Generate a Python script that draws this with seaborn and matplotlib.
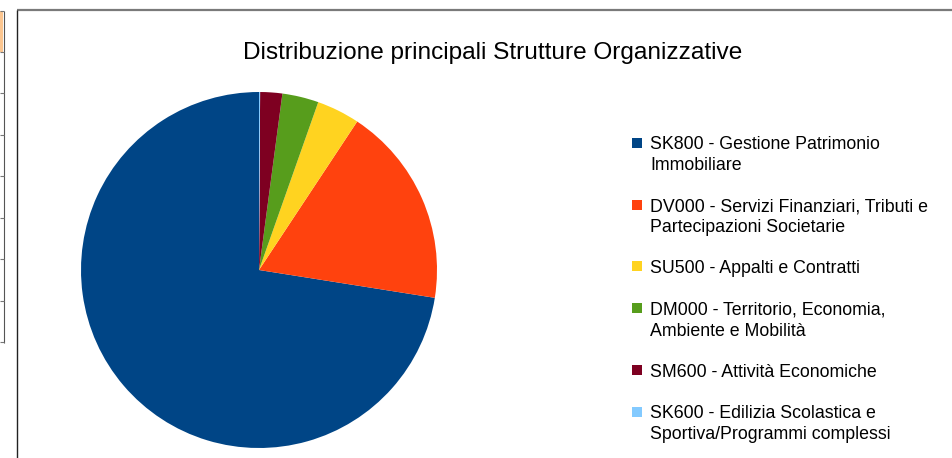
import matplotlib
matplotlib.use("Agg")
import matplotlib.pyplot as plt
import seaborn as sns
from matplotlib.patches import Rectangle
from matplotlib.legend_handler import HandlerBase
from matplotlib.lines import Line2D

# ---- data ----
categories = [
    "SK800 - Gestione Patrimonio\nImmobiliare",
    "DV000 - Servizi Finanziari, Tributi e\nPartecipazioni Societarie",
    "SU500 - Appalti e Contratti",
    "DM000 - Territorio, Economia,\nAmbiente e Mobilità",
    "SM600 - Attività Economiche",
    "SK600 - Edilizia Scolastica e\nSportiva/Programmi complessi",
]
values = [72.5, 18.2, 3.9, 3.3, 2.0, 0.1]
colors = ["#004586", "#ff420e", "#ffd320", "#579d1c", "#7e0021", "#83caff"]
title = "Distribuzione principali Strutture Organizzative"

sns.set_theme(style="white")
plt.rcParams['font.family'] = ['Liberation Sans', 'DejaVu Sans']

W, H = 952, 458
fig = plt.figure(figsize=(W / 100, H / 100), dpi=100)
fig.patch.set_facecolor("white")

# ---- pie ----
cx, cy, r = 259, 270, 178
pad = 1.05
ax = fig.add_axes([(cx - r * pad) / W, (H - cy - r * pad) / H, 2 * r * pad / W, 2 * r * pad / H])
palette = sns.color_palette(colors)
wedges, _ = ax.pie(values, colors=palette, startangle=90, counterclock=True,
                   wedgeprops=dict(linewidth=0))
ax.set_xlim(-pad, pad)
ax.set_ylim(-pad, pad)
ax.set_aspect("equal")
ax.axis("off")

# ---- title ----
fig.text(492.5 / W, (H - 59) / H, title, ha="center", va="baseline",
         fontsize=17.6, color="black")

# ---- legend ----
fs = 12.8


class FirstLineSquare(HandlerBase):
    def __init__(self, nlines, shift_pt):
        super().__init__()
        self.nlines = nlines
        self.shift = shift_pt

    def create_artists(self, legend, orig_handle, xdescent, ydescent, width,
                       height, fontsize, trans):
        size = 7.2
        y0 = 1.44 + (self.nlines - 1) * self.shift
        p = Rectangle((-xdescent, y0), size, size,
                      facecolor=orig_handle.get_facecolor(), edgecolor="none",
                      transform=trans)
        return [p]


handles = [Rectangle((0, 0), 1, 1, facecolor=c, edgecolor="none") for c in palette]
hmap = {h: FirstLineSquare(lab.count("\n") + 1, 8.55) for h, lab in zip(handles, categories)}
leg = fig.legend(handles, categories, handler_map=hmap,
                 loc="upper left", bbox_to_anchor=(632.3 / W, (H - 136.2) / H),
                 frameon=False, fontsize=fs, borderpad=0, borderaxespad=0,
                 handlelength=7.2 / fs, handleheight=0.6, handletextpad=5.76 / fs,
                 labelspacing=1.37)
for t in leg.get_texts():
    t.set_linespacing(1.29)
    t.set_color("black")

# ---- chart frame and spreadsheet remnants ----
def fline(xs, ys, color, lw):
    fig.add_artist(Line2D([x / W for x in xs], [1 - y / H for y in ys],
                          transform=fig.transFigure, color=color, lw=lw,
                          solid_capstyle="butt"))

fline([16.5, 952], [10, 10], "#7a7a7a", 1.6)
fline([16.5, 16.5], [10, 458], "#222222", 1.0)

fig.add_artist(Rectangle((0, 1 - 52 / H), 3.2 / W, 41 / H, transform=fig.transFigure,
                         facecolor="#fcc690", edgecolor="none"))
fline([3.5, 3.5], [11, 343], "#555555", 0.8)
for y in [11, 52, 93, 135, 176, 218, 259, 301, 342]:
    fline([0, 3.5], [y, y], "#777777", 0.8)

fig.savefig("out.png", dpi=100)
